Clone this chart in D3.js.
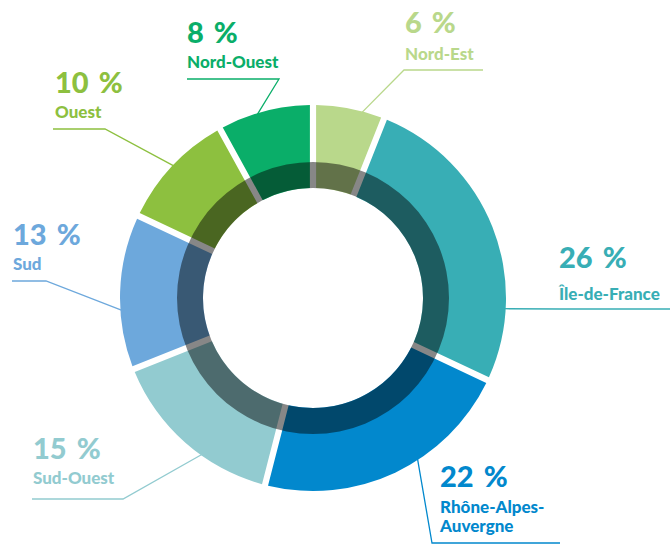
<!DOCTYPE html>
<html><head><meta charset="utf-8">
<script src="https://cdn.jsdelivr.net/npm/d3@7"></script>
<style>
html,body{margin:0;padding:0;background:#fff;}
svg{display:block;}
text{font-family:Lato, "Open Sans", sans-serif;font-weight:900;}
</style></head>
<body>
<svg id="chart" width="671" height="544"></svg>
<script>
// ---- data ----
const regions = ["Nord-Est","Île-de-France","Rhône-Alpes-Auvergne","Sud-Ouest","Sud","Ouest","Nord-Ouest"];
const labelLines = [["Nord-Est"],["Île-de-France"],["Rhône-Alpes-","Auvergne"],["Sud-Ouest"],["Sud"],["Ouest"],["Nord-Ouest"]];
const shares = [6,26,22,15,13,10,8];
const colors = ["#b9d88b","#38aeb5","#0288cd","#92cbd0","#6da8dc","#8dc03f","#0aae69"];

// ---- layout (annotation placement) ----
const anchorDeg = [14.8, 93.2, 147, 215.4, 266.4, 313.5, 343.2];
const elbow = [[404,70],[560,309],[432,543],[123,499],[46,281],[105,129],[279,79]];
const lineEnd = [483,670,560,32,12,53,187];
const textX = [405,559,440,33,13,55,187];
const pctY = [33,268,487,459,245,93,43];
const nameY = [[60],[300],[513,532],[484],[270],[118],[68]];

const cx = 313, cy = 298, R = 193, Rmid = 136, Rin = 110;

const svg = d3.select("#chart");
const g = svg.append("g").attr("transform",`translate(${cx},${cy})`);

const pie = d3.pie().sort(null).value(d=>d)(shares);
const arc = d3.arc().innerRadius(Rin).outerRadius(R).padRadius(100).padAngle(0.062);

g.selectAll("path.slice").data(pie).join("path")
  .attr("class","slice")
  .attr("d",arc)
  .attr("fill",(d,i)=>colors[i]);

// dark inner band
g.append("path")
  .attr("d", d3.arc().innerRadius(Rin).outerRadius(Rmid).startAngle(0).endAngle(2*Math.PI)())
  .attr("fill","#000").attr("fill-opacity",0.47);

// leader lines and labels
const toRad = d=>d*Math.PI/180;
regions.forEach((r,i)=>{
  const a = toRad(anchorDeg[i]);
  const p = [cx + (R-1)*Math.sin(a), cy - (R-1)*Math.cos(a)];
  svg.append("polyline")
    .attr("points",[p, elbow[i], [lineEnd[i], elbow[i][1]]].map(q=>q.join(",")).join(" "))
    .attr("fill","none").attr("stroke",colors[i]).attr("stroke-width",1.3);
  const t = svg.append("text").attr("x",textX[i]).attr("y",pctY[i])
    .attr("fill",colors[i]).attr("font-size",29);
  t.append("tspan").text(shares[i]);
  t.append("tspan").attr("dx",10).text("%");
  labelLines[i].forEach((s,j)=>{
    svg.append("text").attr("x",textX[i]).attr("y",nameY[i][j])
      .attr("fill",colors[i]).attr("font-size",17)
      .text(s);
  });
});
</script>
</body></html>
